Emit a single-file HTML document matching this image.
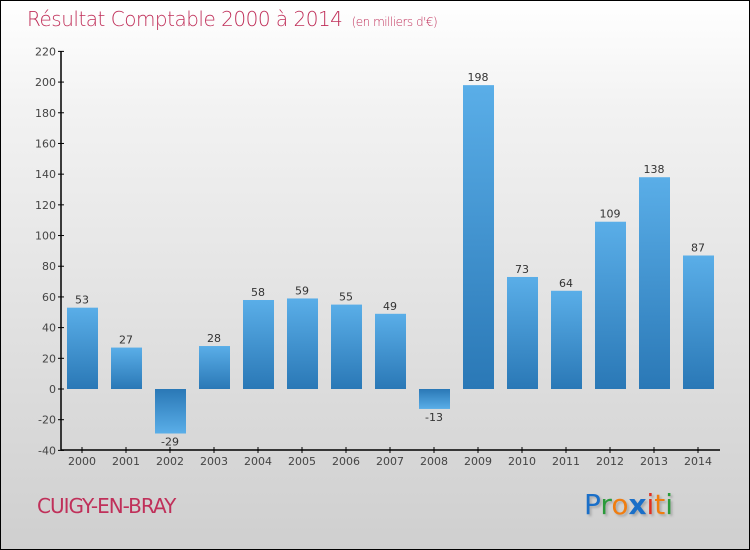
<!DOCTYPE html>
<html><head><meta charset="utf-8"><style>
body{margin:0}
#c{position:relative;width:748px;height:548px;border:1px solid #000;background:linear-gradient(#fff,#f2f2f2 20%,#cfcfcf);font-family:"DejaVu Sans","Liberation Sans",sans-serif;overflow:hidden}
</style></head><body>
<div id="c">
<div style="position:absolute;left:26px;top:6px;font-size:20px;color:#c0305a;font-weight:200;letter-spacing:-0.5px">Résultat Comptable 2000 à 2014 <span style="font-size:12px">&nbsp;(en milliers d'€)</span></div>
<svg id="s" width="750" height="550" style="position:absolute;left:-1px;top:-1px">
<defs>
<linearGradient id="gp" x1="0" y1="0" x2="0" y2="1"><stop offset="0" stop-color="#5aaee8"/><stop offset="1" stop-color="#2a78b6"/></linearGradient>
<linearGradient id="gn" x1="0" y1="0" x2="0" y2="1"><stop offset="0" stop-color="#2a78b6"/><stop offset="1" stop-color="#5aaee8"/></linearGradient>
</defs>
</svg>
<div style="position:absolute;left:36px;top:493px;font-size:20px;color:#c0305a;letter-spacing:-1px">CUIGY-EN-BRAY</div>
<div style="position:absolute;left:583px;top:487px;font-size:28px;font-family:'DejaVu Sans',sans-serif;text-shadow:2px 2px 2px #aaa"><span style="color:#1a6fc8">P</span><span style="color:#2a9a3a">r</span><span style="color:#f07d10">o</span><span style="color:#1a6fc8;font-weight:bold">x</span><span style="color:#e03020">i</span><span style="color:#f07d10">t</span><span style="color:#2a9a3a">i</span></div>
</div>
<script>
const years=["2000","2001","2002","2003","2004","2005","2006","2007","2008","2009","2010","2011","2012","2013","2014"];
const values=[53,27,-29,28,58,59,55,49,-13,198,73,64,109,138,87];
const yTicks=[-40,-20,0,20,40,60,80,100,120,140,160,180,200,220];
const NS="http://www.w3.org/2000/svg";
const s=document.getElementById('s');
const y=v=>389-(v)*(399/260);
const x=i=>82+44*i;
function mk(t,a){const e=document.createElementNS(NS,t);for(const k in a)e.setAttribute(k,a[k]);s.appendChild(e);return e;}
let ax=mk('line',{x1:61,y1:51,x2:61,y2:450,stroke:'#000','stroke-width':1.5});


let bx=mk('line',{x1:61,y1:450,x2:720,y2:450,stroke:'#000','stroke-width':1.5});


yTicks.forEach(v=>{
 mk('line',{x1:58,y1:y(v),x2:64,y2:y(v),stroke:'#000'});
 const t=mk('text',{x:56,y:y(v)+4,'text-anchor':'end','font-size':11,fill:'#444'});t.textContent=v;
 
 
});
values.forEach((v,i)=>{
 const cx=x(i);
 const r=mk('rect',{x:cx-15,y:Math.min(y(v),y(0)),width:31,height:Math.abs(y(v)-y(0)),fill:v>=0?'url(#gp)':'url(#gn)'});
 
 
 const l=mk('text',{x:cx,y:v>=0?y(v)-4:y(v)+12,'text-anchor':'middle','font-size':11,fill:'#333'});l.textContent=v;
 
 
 mk('line',{x1:cx,y1:447,x2:cx,y2:453,stroke:'#000'});
 const t=mk('text',{x:cx,y:465,'text-anchor':'middle','font-size':11,fill:'#444'});t.textContent=years[i];
 
 
});
</script>
</body></html>
